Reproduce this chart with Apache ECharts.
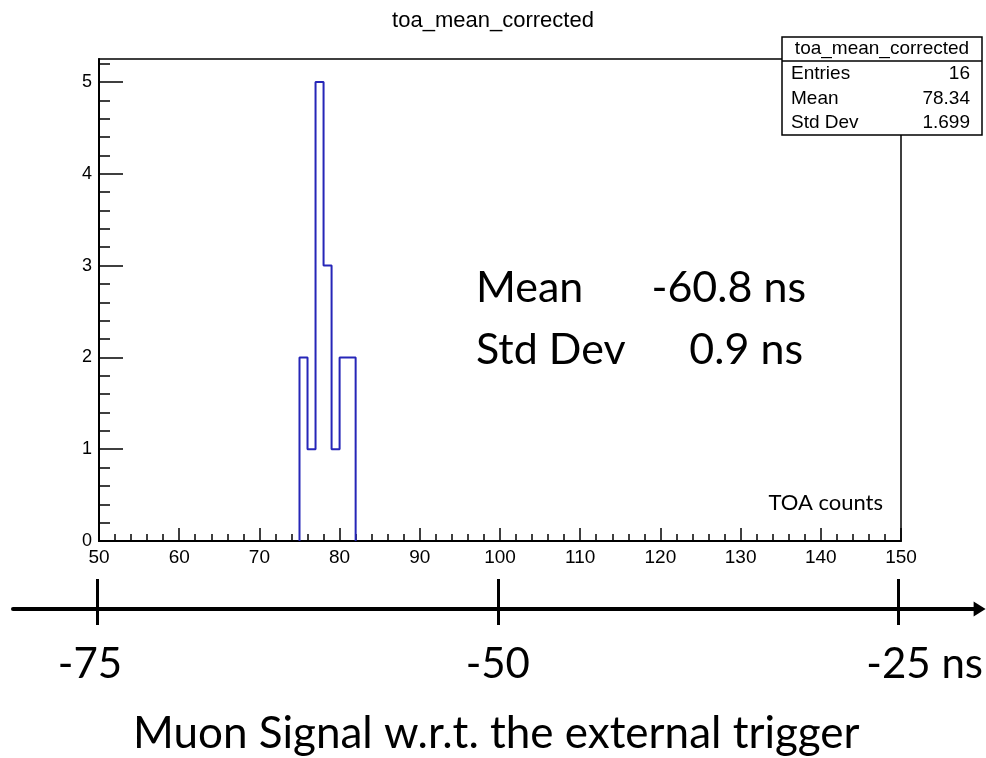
<!DOCTYPE html>
<html>
<head>
<meta charset="utf-8">
<script src="https://cdn.jsdelivr.net/npm/echarts@6/dist/echarts.min.js"></script>
<style>
  html, body { margin: 0; padding: 0; background: #fff; }
  #chart { width: 986px; height: 758px; }
</style>
</head>
<body>
<div id="chart"></div>
<script>
// Histogram of corrected TOA means (1-unit bins)
const BIN_LOW = [75, 76, 77, 78, 79, 80, 81];
const BIN_COUNT = [2, 1, 5, 3, 1, 2, 2];
const BIN_WIDTH = 1;

// Axis ranges and labels
const X_MIN = 50, X_MAX = 150, X_STEP = 10;
const Y_LABELS = [0, 1, 2, 3, 4, 5];
const Y_MAX = 5.25;

// Stats box
const STAT_TITLE = 'toa_mean_corrected';
const STAT_NAMES = ['Entries', 'Mean', 'Std Dev'];
const STAT_VALUES = ['16', '78.34', '1.699'];

// Summary in nanoseconds
const SUMMARY_NAMES = ['Mean', 'Std Dev'];
const SUMMARY_VALUES = ['-60.8 ns', '0.9 ns'];

// Time axis relative to the external trigger
const TRIGGER_TICKS = [-75, -50, -25];
const TRIGGER_UNIT = ' ns';

// ---- layout (pixels) ----
const PLOT = { left: 99, top: 59, right: 901, bottom: 541 };
const TIME_AXIS = { y: 609, start: 13, end: 980, firstTickX: 97, lastTickX: 899 };

// Outline of the histogram as a stepped polyline
function histOutline(lows, counts, w) {
  const pts = [[lows[0], 0]];
  for (let i = 0; i < lows.length; i++) {
    pts.push([lows[i], counts[i]]);
    pts.push([lows[i] + w, counts[i]]);
  }
  pts.push([lows[lows.length - 1] + w, 0]);
  return pts;
}

// Minor ticks every 0.2 on the count axis
const yMinor = [];
for (let k = 1; k * 0.2 < Y_MAX; k++) {
  const v = Math.round(k * 0.2 * 10) / 10;
  if (Math.abs(v - Math.round(v)) > 1e-6) yMinor.push(v);
}

// Map the time axis range so its ticks land under the plot edges
const nsPerPx = (TRIGGER_TICKS[TRIGGER_TICKS.length - 1] - TRIGGER_TICKS[0]) /
                (TIME_AXIS.lastTickX - TIME_AXIS.firstTickX);
const tMin = TRIGGER_TICKS[0] - (TIME_AXIS.firstTickX - TIME_AXIS.start) * nsPerPx;
const tMax = TRIGGER_TICKS[TRIGGER_TICKS.length - 1] + (TIME_AXIS.end - TIME_AXIS.lastTickX) * nsPerPx;

const ROOT_FONT = '"Liberation Sans", Arial, sans-serif';
const SLIDE_FONT = 'Lato, "Open Sans", sans-serif';
const STAT_FONT = '19px ' + ROOT_FONT;

const chart = echarts.init(document.getElementById('chart'), null, { renderer: 'canvas' });

const statTexts = [{
  type: 'text', z: 101, x: 882, y: 49,
  style: { text: STAT_TITLE, font: STAT_FONT, fill: '#000', align: 'center', verticalAlign: 'middle' }
}];
STAT_NAMES.forEach((n, i) => {
  const cy = 74 + i * 24.5;
  statTexts.push({ type: 'text', z: 101, x: 791, y: cy,
    style: { text: n, font: STAT_FONT, fill: '#000', align: 'left', verticalAlign: 'middle' } });
  statTexts.push({ type: 'text', z: 101, x: 970, y: cy,
    style: { text: STAT_VALUES[i], font: STAT_FONT, fill: '#000', align: 'right', verticalAlign: 'middle' } });
});

const summaryTexts = [];
SUMMARY_NAMES.forEach((n, i) => {
  const cy = 288 + i * 62;
  summaryTexts.push({ type: 'text', z: 50, x: 476, y: cy,
    style: { text: n, font: '43px ' + SLIDE_FONT, fill: '#000', align: 'left', verticalAlign: 'middle' } });
  summaryTexts.push({ type: 'text', z: 50, x: 806 - i * 3, y: cy,
    style: { text: SUMMARY_VALUES[i], font: '43px ' + SLIDE_FONT, fill: '#000', align: 'right', verticalAlign: 'middle' } });
});

const option = {
  animation: false,
  backgroundColor: '#fff',
  title: {
    text: 'toa_mean_corrected',
    left: 'center',
    top: 5,
    textStyle: { fontFamily: ROOT_FONT, fontSize: 22, fontWeight: 'normal', color: '#000' }
  },
  grid: [
    {
      left: PLOT.left, top: PLOT.top,
      width: PLOT.right - PLOT.left, height: PLOT.bottom - PLOT.top,
      show: true, borderColor: '#000', borderWidth: 1.5, backgroundColor: 'transparent'
    },
    {
      left: TIME_AXIS.start, top: TIME_AXIS.y - 60,
      width: TIME_AXIS.end - TIME_AXIS.start, height: 60,
      show: false
    }
  ],
  xAxis: [
    {
      gridIndex: 0, type: 'value', min: X_MIN, max: X_MAX, interval: X_STEP,
      axisLine: { show: true, onZero: false, lineStyle: { color: '#000', width: 2 } },
      axisTick: { show: true, inside: true, length: 13, lineStyle: { color: '#000', width: 1.5 } },
      minorTick: { show: true, splitNumber: 5, length: 7, lineStyle: { color: '#000', width: 1.5 } },
      splitLine: { show: false },
      axisLabel: { color: '#000', fontFamily: ROOT_FONT, fontSize: 19, margin: 7 }
    },
    {
      // time axis: line, arrow and upper half of ticks
      gridIndex: 1, type: 'value', position: 'bottom', min: tMin, max: tMax,
      axisLine: { show: true, onZero: false, symbol: ['none', 'triangle'], symbolSize: [15, 12],
                  lineStyle: { color: '#000', width: 4 } },
      axisTick: { show: true, inside: true, length: 30, customValues: TRIGGER_TICKS,
                  lineStyle: { color: '#000', width: 3 } },
      axisLabel: { show: false },
      splitLine: { show: false },
      name: 'Muon Signal w.r.t. the external trigger',
      nameLocation: 'middle', nameGap: 103,
      nameTextStyle: { fontFamily: SLIDE_FONT, fontSize: 44, color: '#000' }
    },
    {
      // time axis: lower half of ticks and labels
      gridIndex: 1, type: 'value', position: 'bottom', offset: 0, min: tMin, max: tMax,
      axisLine: { show: false, onZero: false },
      axisTick: { show: true, inside: false, length: 16, customValues: TRIGGER_TICKS,
                  lineStyle: { color: '#000', width: 3 } },
      axisLabel: {
        show: true, customValues: TRIGGER_TICKS, margin: 34,
        color: '#000', fontFamily: SLIDE_FONT, fontSize: 42,
        formatter: function (v) {
          if (v === TRIGGER_TICKS[TRIGGER_TICKS.length - 1]) return '{pad| }{t|' + v + TRIGGER_UNIT + '}';
          if (v === TRIGGER_TICKS[0]) return '{t|' + v + '}{pad2| }';
          return '{t|' + v + '}';
        },
        rich: {
          t: { fontFamily: SLIDE_FONT, fontSize: 42, color: '#000' },
          pad: { width: 52, fontSize: 42 },
          pad2: { width: 14, fontSize: 42 }
        }
      },
      splitLine: { show: false }
    }
  ],
  yAxis: [
    {
      gridIndex: 0, type: 'value', min: 0, max: Y_MAX, position: 'left',
      axisLine: { show: true, onZero: false, lineStyle: { color: '#000', width: 2 } },
      axisTick: { show: true, inside: true, length: 24, customValues: Y_LABELS,
                  lineStyle: { color: '#000', width: 1.5 } },
      axisLabel: { customValues: Y_LABELS, color: '#000', fontFamily: ROOT_FONT, fontSize: 18, margin: 7 },
      splitLine: { show: false }
    },
    {
      gridIndex: 0, type: 'value', min: 0, max: Y_MAX, position: 'left', offset: 0,
      axisLine: { show: false },
      axisTick: { show: true, inside: true, length: 11, customValues: yMinor,
                  lineStyle: { color: '#000', width: 1.5 } },
      axisLabel: { show: false },
      splitLine: { show: false }
    },
    {
      gridIndex: 1, type: 'value', min: 0, max: 1, show: false
    }
  ],
  series: [
    {
      type: 'line',
      xAxisIndex: 0, yAxisIndex: 0,
      data: histOutline(BIN_LOW, BIN_COUNT, BIN_WIDTH),
      showSymbol: false, symbol: 'none',
      lineStyle: { color: '#2626b8', width: 2 },
      z: 5
    }
  ],
  graphic: [
    {
      type: 'rect', z: 100,
      shape: { x: 782, y: 37, width: 200, height: 98 },
      style: { fill: '#fff', stroke: '#000', lineWidth: 1.5 }
    },
    {
      type: 'line', z: 101,
      shape: { x1: 782, y1: 61, x2: 982, y2: 61 },
      style: { stroke: '#000', lineWidth: 1.5 }
    },
    ...statTexts,
    ...summaryTexts,
    {
      type: 'text', z: 50, x: 883, y: 503,
      style: { text: 'TOA counts', font: '22px ' + SLIDE_FONT, fill: '#000', align: 'right', verticalAlign: 'middle' }
    }
  ]
};

chart.setOption(option);
</script>
</body>
</html>
